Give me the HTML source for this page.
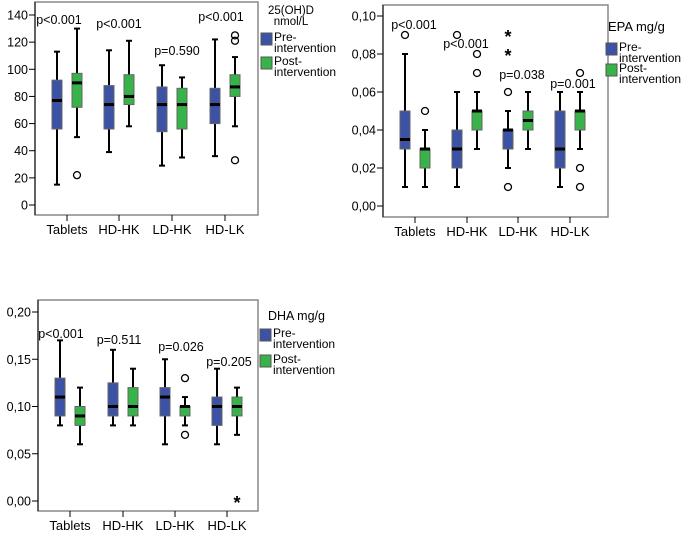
<!DOCTYPE html>
<html><head><meta charset="utf-8"><style>
body{margin:0;background:#fff;width:696px;height:552px;overflow:hidden}
svg{font-family:"Liberation Sans",sans-serif}
</style></head><body>
<svg id="s" width="696" height="552"></svg>
<script>
const categories=["Tablets","HD-HK","LD-HK","HD-LK"];
// [min, q1, median, q3, max]
const vitdPre=[[15,56,77,92,113],[39,56,74,88,114],[29,54,74,87,103],[36,60,74,86,122]];
const vitdPost=[[50,72,90,97,130],[58,74,80,96,121],[35,56,74,86,94],[58,80,87,96,109]];
const vitdPreOut=[[],[],[],[]];
const vitdPostOut=[[22],[],[],[121,125,33]];
const vitdP=["p<0.001","p<0.001","p=0.590","p<0.001"];
const vitdTicks=[0,20,40,60,80,100,120,140];

const epaPre=[[0.01,0.03,0.035,0.05,0.08],[0.01,0.02,0.03,0.04,0.06],[0.02,0.03,0.04,0.04,0.05],[0.01,0.02,0.03,0.05,0.06]];
const epaPost=[[0.01,0.02,0.03,0.03,0.04],[0.03,0.04,0.05,0.05,0.06],[0.03,0.04,0.045,0.05,0.06],[0.03,0.04,0.05,0.05,0.06]];
const epaPreOut=[[0.09],[0.09],[0.06,0.01],[]];
const epaPreStar=[[],[],[0.08,0.09],[]];
const epaPostOut=[[0.05],[0.07,0.08],[],[0.07,0.02,0.01]];
const epaP=["p<0.001","p<0.001","p=0.038","p=0.001"];
const epaTicks=[0,0.02,0.04,0.06,0.08,0.10];

const dhaPre=[[0.08,0.09,0.11,0.13,0.17],[0.08,0.09,0.10,0.125,0.16],[0.06,0.09,0.11,0.12,0.15],[0.06,0.08,0.10,0.11,0.14]];
const dhaPost=[[0.06,0.08,0.09,0.10,0.12],[0.08,0.09,0.10,0.12,0.14],[0.08,0.09,0.10,0.10,0.11],[0.07,0.09,0.10,0.11,0.12]];
const dhaPostOut=[[],[],[0.13,0.07],[]];
const dhaPostStar=[[],[],[],[0]];
const dhaP=["p<0.001","p=0.511","p=0.026","p=0.205"];
const dhaTicks=[0,0.05,0.10,0.15,0.20];

const NS="http://www.w3.org/2000/svg";
const svg=document.getElementById('s');
function mk(tag,attrs,parent,txt){const e=document.createElementNS(NS,tag);for(const k in attrs)e.setAttribute(k,attrs[k]);if(txt!==undefined)e.textContent=txt;(parent||svg).appendChild(e);return e;}

function chart(c){
  const g=mk('g',{});
  
  
  const y=v=>c.y0+(v-c.vmin)/(c.vmax-c.vmin)*(c.y1-c.y0);
  const fr=mk('rect',{x:c.L,y:c.T,width:c.R-c.L,height:c.B-c.T,fill:'none',stroke:'#888','stroke-width':1.5},g);
  
  mk('line',{x1:c.L,y1:c.T,x2:c.L,y2:c.B,stroke:'#000','stroke-width':1},g);
  c.ticks.forEach(t=>{
    const yy=y(t);
    mk('line',{x1:c.L-6,x2:c.L,y1:yy,y2:yy,stroke:'#000'},g);
    const tl=mk('text',{x:c.L-7,y:yy+4.5,'font-size':12.5,'text-anchor':'end'},g,c.fmt(t));
    
  });
  categories.forEach((cat,i)=>{
    const cx=c.cx[i];
    mk('line',{x1:cx,x2:cx,y1:c.B,y2:c.B+6,stroke:'#000'},g);
    const cl=mk('text',{x:cx,y:c.B+19,'font-size':13,'text-anchor':'middle'},g,cat);
    
    [[c.pre,-10,'#3b52a5',c.preOut,c.preStar,'pre'],[c.post,10,'#37b34a',c.postOut,c.postStar,'post']].forEach(([d,off,col,out,star,nm])=>{
      const x=cx+off,v=d[i];
      mk('line',{x1:x,x2:x,y1:y(v[0]),y2:y(v[4]),stroke:'#000','stroke-width':2},g);
      mk('line',{x1:x-3,x2:x+3,y1:y(v[0]),y2:y(v[0]),stroke:'#000','stroke-width':2},g);
      mk('line',{x1:x-3,x2:x+3,y1:y(v[4]),y2:y(v[4]),stroke:'#000','stroke-width':2},g);
      const b=mk('rect',{x:x-5,y:y(v[3]),width:10,height:Math.max(1,y(v[1])-y(v[3])),fill:col,stroke:'#666','stroke-width':1},g);
      
      
      mk('line',{x1:x-5,x2:x+5,y1:y(v[2]),y2:y(v[2]),stroke:'#000','stroke-width':3},g);
      (out&&out[i]||[]).forEach(o=>{const e=mk('circle',{cx:x,cy:y(o),r:3.5,fill:'none',stroke:'#000','stroke-width':1.3},g);
        });
      (star&&star[i]||[]).forEach(o=>{const e=mk('text',{x:x,y:y(o)+8,'font-size':18,'font-weight':'bold','text-anchor':'middle'},g,'*');
        });
    });
    const p=mk('text',{x:c.px[i],y:c.py[i],'font-size':12.5,'text-anchor':'middle'},g,c.p[i]);
    
  });
  const lg=mk('g',{},g);
  
  c.title.forEach((t,k)=>mk('text',{x:c.lt[0],y:c.lt[1]+k*11,'font-size':c.tfs||11.5,'text-anchor':c.lanchor||'start'},lg,t));
  [['#3b52a5','Pre-',c.ls[1]],['#37b34a','Post-',c.ls[2]]].forEach(([col,w,yy],k)=>{
    const r=mk('rect',{x:c.ls[0],y:yy,width:11,height:12,fill:col,stroke:'#555'},lg);
    
    mk('text',{x:c.ls[0]+13,y:yy+8,'font-size':12},lg,w);
    mk('text',{x:c.ls[0]+13,y:yy+19,'font-size':12},lg,'intervention');
  });
}

chart({name:'vitamin-d-chart',L:35,R:258,T:2,B:215,y0:205,y1:15,vmin:0,vmax:140,ticks:vitdTicks,fmt:t=>String(t),
  cx:[67,119,172,225],pre:vitdPre,post:vitdPost,preOut:vitdPreOut,postOut:vitdPostOut,p:vitdP,
  px:[59,119,177,221],py:[24,28,55,21],title:['25(OH)D','nmol/L'],lt:[291,14],lanchor:'middle',ls:[261,33,57]});
chart({name:'epa-chart',L:383,R:608,T:5,B:217,y0:206,y1:16,vmin:0,vmax:0.10,ticks:epaTicks,fmt:t=>t.toFixed(2).replace('.',','),
  cx:[415,467,518,570],pre:epaPre,post:epaPost,preOut:epaPreOut,preStar:epaPreStar,postOut:epaPostOut,p:epaP,
  px:[414,466,522,573],py:[29,48,79,88],title:['EPA  mg/g'],tfs:13,lt:[608,31],ls:[606,43,64]});
chart({name:'dha-chart',L:38,R:258,T:300,B:511,y0:501,y1:312,vmin:0,vmax:0.20,ticks:dhaTicks,fmt:t=>t.toFixed(2).replace('.',','),
  cx:[70,123,175,227],pre:dhaPre,post:dhaPost,postOut:dhaPostOut,postStar:dhaPostStar,p:dhaP,
  px:[61,119,181,229],py:[338,344,351,366],title:['DHA mg/g'],tfs:12.5,lt:[268,320],ls:[260,329,355]});
</script>
</body></html>
